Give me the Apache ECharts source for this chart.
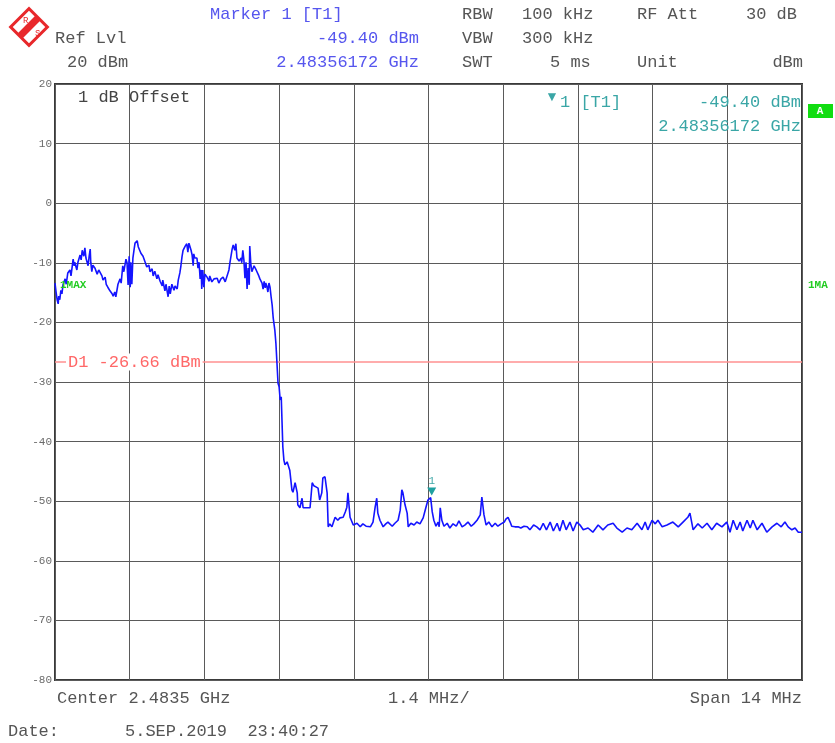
<!DOCTYPE html>
<html><head><meta charset="utf-8">
<script src="https://cdn.jsdelivr.net/npm/echarts@6/dist/echarts.min.js"></script>
<style>html,body{margin:0;padding:0;background:#fff;}#c{width:835px;height:743px;}</style>
</head><body><div id="c"></div>
<script>
// Frequency offset from center (2.4835 GHz) in MHz, and trace level in dBm
const freqOffsetMHz = [
-7.00,-6.98,-6.96,-6.94,-6.93,-6.91,-6.89,-6.87,-6.85,-6.81,
-6.79,-6.76,-6.72,-6.70,-6.66,-6.64,-6.63,-6.59,-6.57,-6.53,
-6.51,-6.49,-6.46,-6.44,-6.42,-6.38,-6.36,-6.34,-6.33,-6.31,
-6.29,-6.25,-6.21,-6.18,-6.16,-6.12,-6.10,-6.06,-6.04,-6.01,
-5.97,-5.93,-5.91,-5.88,-5.86,-5.82,-5.78,-5.76,-5.73,-5.71,
-5.67,-5.65,-5.63,-5.61,-5.59,-5.58,-5.56,-5.54,-5.52,-5.50,
-5.46,-5.44,-5.41,-5.39,-5.35,-5.31,-5.28,-5.24,-5.22,-5.18,
-5.16,-5.13,-5.09,-5.07,-5.03,-4.99,-4.98,-4.94,-4.92,-4.88,
-4.86,-4.84,-4.81,-4.77,-4.75,-4.71,-4.69,-4.66,-4.64,-4.62,
-4.60,-4.56,-4.53,-4.51,-4.49,-4.47,-4.45,-4.43,-4.41,-4.40,
-4.38,-4.34,-4.32,-4.30,-4.28,-4.26,-4.25,-4.23,-4.21,-4.19,
-4.15,-4.11,-4.10,-4.06,-4.02,-3.96,-3.93,-3.89,-3.85,-3.81,
-3.78,-3.74,-3.72,-3.68,-3.66,-3.63,-3.61,-3.59,-3.55,-3.51,
-3.50,-3.48,-3.46,-3.44,-3.42,-3.40,-3.38,-3.36,-3.35,-3.33,
-3.31,-3.27,-3.23,-3.21,-3.18,-3.16,-3.12,-3.10,-3.08,-3.06,
-3.05,-3.03,-3.01,-2.99,-2.97,-2.95,-2.93,-2.91,-2.88,-2.86,
-2.84,
-2.82,-2.80,-2.78,-2.76,-2.74,-2.73,-2.71,-2.69,-2.65,-2.63,-2.60,-2.56,-2.54,-2.50,-2.46,-2.45,-2.41,-2.37,-2.35,-2.31,
-2.28,-2.22,-2.18,-2.15,-2.11,-2.07,-2.04,-2.00,-1.98,-1.94,-1.90,-1.88,-1.85,-1.81,-1.75,-1.70,-1.66,-1.60,-1.56,-1.53,
-1.51,-1.47,-1.41,-1.34,-1.28,-1.23,-1.17,-1.09,-1.04,-1.00,-0.97,-0.95,-0.91,-0.85,-0.80,-0.76,-0.68,-0.63,-0.57,-0.53,
-0.50,-0.48,-0.44,-0.40,-0.38,-0.33,-0.27,-0.22,-0.16,-0.10,-0.05,-0.01,0.04,0.07,0.10,0.14,0.18,0.20,0.22,0.25,
0.29,0.35,0.40,0.46,0.52,0.57,0.63,0.68,0.74,0.80,0.85,0.91,0.97,1.00,1.04,1.08,1.13,1.19,1.25,1.30,
1.36,1.42,1.45,1.49,1.53,1.56,1.62,1.68,1.73,1.79,1.85,1.90,1.97,2.03,2.09,2.15,2.21,2.28,2.34,2.41,
2.46,2.52,2.58,2.65,2.71,2.78,2.84,2.90,2.99,3.08,3.18,3.27,3.36,3.46,3.53,3.63,3.72,3.81,3.91,4.00,
4.06,4.11,4.19,4.25,4.30,4.38,4.47,4.58,4.68,4.77,4.86,4.90,4.96,5.05,5.13,5.22,5.31,5.40,5.50,5.59,
5.65,5.71,5.78,5.84,5.89,5.97,6.03,6.08,6.16,6.25,6.34,6.44,6.53,6.61,6.68,6.74,6.81,6.87,6.93,7.00
];
const levelDbm = [
-13.4,-14.9,-16.2,-16.9,-15.6,-16.2,-14.6,-15.2,-13.7,-12.7,
-13.6,-11.7,-11.2,-12.2,-9.4,-10.5,-9.9,-11.2,-9.9,-8.7,
-9.5,-7.9,-8.9,-7.5,-9.2,-10.5,-8.9,-7.7,-9.9,-11.5,
-10.4,-10.9,-11.9,-11.2,-10.9,-12.2,-12.9,-12.4,-13.6,-14.1,
-14.7,-15.2,-15.6,-14.9,-15.7,-13.6,-12.7,-13.4,-10.5,-11.5,
-9.4,-10.0,-13.7,-8.9,-14.1,-9.9,-13.6,-9.2,-7.9,-6.7,
-6.3,-7.3,-7.2,-8.4,-8.9,-9.9,-10.7,-10.4,-11.5,-11.0,
-12.2,-11.4,-12.7,-12.0,-13.1,-13.9,-12.9,-14.7,-13.6,-15.7,
-13.9,-15.2,-13.6,-14.6,-13.9,-14.4,-12.9,-11.7,-10.5,-9.0,
-7.9,-7.2,-6.8,-8.2,-6.7,-6.5,-7.9,-8.7,-10.5,-8.5,
-9.2,-9.2,-10.9,-9.9,-12.7,-11.2,-14.4,-11.2,-14.1,-11.9,
-12.4,-13.1,-12.2,-13.2,-12.7,-12.6,-13.4,-12.7,-12.4,-13.2,
-13.1,-11.2,-9.9,-7.7,-7.0,-7.9,-6.8,-9.2,-9.7,-9.2,
-10.0,-7.9,-9.5,-12.6,-9.9,-14.4,-10.9,-13.7,-7.2,-10.2,
-11.5,-10.5,-11.2,-10.9,-12.2,-12.7,-13.4,-14.4,-13.1,-14.2,
-13.4,-13.9,-14.9,-13.4,-14.1,-15.7,-17.1,-19.3,-21.3,-23.5,
-26.8,
-30.2,-30.8,-33.0,-32.5,-32.5,-40.9,-43.1,-43.9,-43.4,-43.1,-44.8,-48.1,-48.5,-46.9,-48.6,-50.6,-51.1,-49.5,-51.1,-51.1,
-51.0,-51.1,-46.9,-47.4,-47.6,-47.8,-49.8,-48.6,-46.1,-45.9,-48.6,-54.3,-53.8,-54.3,-52.7,-53.2,-52.8,-52.7,-51.8,-51.0,
-48.6,-52.7,-54.0,-53.7,-54.3,-53.8,-54.2,-54.3,-53.5,-51.0,-49.5,-52.0,-53.2,-54.3,-53.8,-53.5,-54.2,-53.7,-53.2,-51.5,
-48.1,-48.6,-50.6,-52.0,-54.3,-53.7,-54.0,-53.5,-53.8,-52.8,-51.1,-49.8,-49.4,-51.8,-53.2,-54.2,-53.5,-54.3,-51.1,-53.2,
-54.2,-53.7,-54.5,-53.8,-54.2,-53.3,-54.3,-54.0,-53.5,-54.2,-53.8,-53.2,-52.3,-49.3,-52.3,-54.0,-53.5,-54.3,-53.7,-54.2,
-53.8,-53.5,-53.0,-52.7,-53.5,-54.2,-54.3,-54.3,-54.5,-54.2,-54.3,-54.8,-54.0,-54.3,-54.8,-53.7,-54.8,-53.5,-55.0,-53.7,
-55.0,-53.2,-54.8,-53.5,-55.0,-53.5,-54.0,-54.8,-54.5,-55.2,-54.0,-54.8,-54.0,-53.7,-54.5,-55.2,-54.5,-54.8,-53.7,-54.8,
-53.5,-54.8,-53.2,-53.8,-53.2,-54.3,-54.0,-53.5,-54.3,-53.5,-52.7,-52.0,-54.8,-53.8,-54.5,-53.7,-54.8,-53.7,-54.3,-53.5,
-55.2,-53.2,-54.8,-53.5,-55.0,-53.2,-54.5,-53.2,-54.8,-53.7,-55.2,-54.3,-53.7,-54.3,-53.5,-54.3,-54.8,-54.5,-55.2,-55.2
];
const yTickValues = [20,10,0,-10,-20,-30,-40,-50,-60,-70,-80];
const displayLineLevel = [-26.66];          // D1 limit
const markerFreqOffsetMHz = [0.06];          // Marker 1 [T1] (2.48356172 GHz)
const markerLevelDbm = [-49.4];

const MONO = '"Liberation Mono","DejaVu Sans Mono",monospace';
const chart = echarts.init(document.getElementById('c'), null, {renderer:'canvas'});
const data = freqOffsetMHz.map((f,i)=>[f, levelDbm[i]]);

function T(text, x, y, color, o) {
  o = o || {};
  return {type:'text', z:100, silent:true, style:{text:text, x:x, y:y, fill:color,
    font:(o.weight||'normal')+' '+(o.size||17)+'px '+MONO,
    textAlign:o.align||'left', textVerticalAlign:'middle', verticalAlign:'middle',
    backgroundColor:o.bg, padding:o.pad}};
}

chart.setOption({
  animation:false,
  backgroundColor:'#fff',
  grid:{left:55, top:84, width:747, height:596, show:true, borderColor:'#3a3a3a', borderWidth:2, backgroundColor:'#fff', containLabel:false},
  xAxis:{type:'value', min:-7, max:7, interval:1.4,
    axisLine:{show:false}, axisTick:{show:false}, axisLabel:{show:false},
    splitLine:{show:true, lineStyle:{color:'#5a5a5a', width:1}}},
  yAxis:{type:'value', min:-80, max:20, interval:10,
    axisLine:{show:false}, axisTick:{show:false},
    axisLabel:{show:true, color:'#6a6a6a', fontSize:11, fontFamily:MONO, margin:3,
      formatter:v=> yTickValues.indexOf(v)>=0 ? String(v) : ''},
    splitLine:{show:true, lineStyle:{color:'#5a5a5a', width:1}}},
  series:[{
    type:'line', data:data, showSymbol:false, symbol:'none', z:5,
    lineStyle:{color:'#1414ff', width:1.6},
    markLine:{silent:true, symbol:'none', animation:false,
      lineStyle:{color:'#ff9090', width:1.5, type:'solid'}, label:{show:false},
      data:[{yAxis:displayLineLevel[0]}]},
    markPoint:{silent:true, animation:false,
      data:[{coord:[markerFreqOffsetMHz[0], markerLevelDbm[0]]}],
      symbol:'triangle', symbolRotate:180, symbolSize:[9,8], symbolOffset:[0,-6],
      itemStyle:{color:'#1fa0a0'},
      label:{show:true, position:'top', distance:1, formatter:'1', color:'#40a8a8', fontSize:11, fontFamily:MONO}}
  }]
});

const d1y = chart.convertToPixel({gridIndex:0},[0, displayLineLevel[0]])[1];
const gray = '#555', blue = '#5656ee', teal = '#3aa6a6', green = '#22cc22';

const graphics = [
  // R&S logo
  {type:'group', x:29, y:27, rotation:Math.PI/4, silent:true, children:[
    {type:'rect', shape:{x:-13,y:-13,width:26,height:26}, style:{fill:'#fff', stroke:'#e8282b', lineWidth:3}},
    {type:'rect', shape:{x:-13,y:-3.5,width:26,height:7}, style:{fill:'#e8282b'}}
  ]},
  T('R', 23, 21, '#e8282b', {size:9}),
  T('S', 35, 34, '#e8282b', {size:9}),
  // header
  T('Marker 1 [T1]', 210, 14, blue),
  T('-49.40 dBm', 419, 38, blue, {align:'right'}),
  T('2.48356172 GHz', 419, 62, blue, {align:'right'}),
  T('Ref Lvl', 55, 38, gray),
  T('20 dBm', 67, 62, gray),
  T('RBW', 462, 14, gray), T('100 kHz', 522, 14, gray), T('RF Att', 637, 14, gray), T('30 dB', 797, 14, gray, {align:'right'}),
  T('VBW', 462, 38, gray), T('300 kHz', 522, 38, gray),
  T('SWT', 462, 62, gray), T('5 ms', 550, 62, gray), T('Unit', 637, 62, gray), T('dBm', 803, 62, gray, {align:'right'}),
  // inside plot
  T('1 dB Offset', 78, 97, '#444'),
  T('\u25BC', 552, 97, teal, {size:14, align:'center'}),
  T('1 [T1]', 560, 102, teal),
  T('-49.40 dBm', 801, 102, teal, {align:'right'}),
  T('2.48356172 GHz', 801, 126, teal, {align:'right'}),
  T('1MAX', 60, 285, green, {size:11, weight:'bold'}),
  T('1MA', 808, 285, green, {size:11, weight:'bold'}),
  T('D1 -26.66 dBm', 66, d1y, '#ff6868', {bg:'#fff', pad:[0,2]}),
  {type:'rect', silent:true, z:100, shape:{x:808,y:104,width:25,height:14}, style:{fill:'#11dd11'}},
  T('A', 820, 111, '#fff', {size:11, align:'center', weight:'bold'}),
  // footer
  T('Center 2.4835 GHz', 57, 698, gray),
  T('1.4 MHz/', 388, 698, gray),
  T('Span 14 MHz', 802, 698, gray, {align:'right'}),
  T('Date:', 8, 731, gray),
  T('5.SEP.2019  23:40:27', 125, 731, gray)
];
chart.setOption({graphic:graphics});
</script></body></html>
